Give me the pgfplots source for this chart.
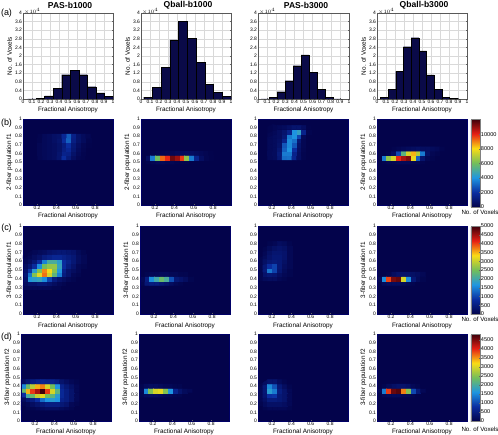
\documentclass[border=0pt]{standalone}
\usepackage{pgfplots}
\pgfplotsset{compat=1.18}
\usepackage{fontspec}
\setmainfont{Liberation Sans}
\definecolor{navybg}{RGB}{3,3,75}
\definecolor{barnavy}{RGB}{10,10,72}
\pgfplotsset{
 colormap={vox}{rgb255(0cm)=(3,3,75) rgb255(1cm)=(10,45,160) rgb255(2cm)=(30,150,225) rgb255(3cm)=(115,190,90) rgb255(4cm)=(250,220,20) rgb255(5cm)=(230,30,20) rgb255(6cm)=(60,0,10)},
 base/.style={scale only axis,width=90bp,
  tick label style={font=\fontsize{5}{6}\selectfont,inner sep=0.8pt},
  label style={font=\fontsize{6.4}{7}\selectfont},
  x label style={at={(axis description cs:0.5,-0.13)},anchor=center},
  y label style={at={(axis description cs:-0.15,0.5)},anchor=center},
  xlabel={Fractional Anisotropy},
  major tick length=1.2pt,tick align=inside,
  tick style={line width=0.2pt,black!60},
 },
 hist/.style={base,height=86bp,xmin=0,xmax=1,ymin=0,ymax=4,
  axis line style={line width=0.3pt,black!65},
  grid=major,grid style={line width=0.3pt,black!15},
  xtick={0,0.1,0.2,0.3,0.4,0.5,0.6,0.7,0.8,0.9,1},
  xticklabels={0,0.1,0.2,0.3,0.4,0.5,0.6,0.7,0.8,0.9,1},
  ytick={0,0.4,0.8,1.2,1.6,2,2.4,2.8,3.2,3.6,4},
  yticklabels={0,0.4,0.8,1.2,1.6,2,2.4,2.8,3.2,3.6,4},
  ylabel={No. of Voxels},
 },
 heat/.style={base,xmin=0.055,xmax=0.985,ymin=0,ymax=1,colormap name=vox,
  point meta min=0,
  axis background/.style={fill=navybg},
  axis line style={line width=0.3pt,black!60!blue},
  axis on top,xtick pos=bottom,ytick pos=left,
  xtick={0.2,0.4,0.6,0.8},xticklabels={0.2,0.4,0.6,0.8},
  ytick={0,0.1,0.2,0.3,0.4,0.5,0.6,0.7,0.8,0.9,1},
  yticklabels={0,0.1,0.2,0.3,0.4,0.5,0.6,0.7,0.8,0.9,1},
 },
 cbar/.style={colorbar,colorbar style={
   at={(1.044,1)},anchor=north west,width=9bp,scaled y ticks=false,
   tick label style={font=\fontsize{5.6}{6}\selectfont,inner sep=0.8pt},
   major tick length=1pt,tick style={line width=0.2pt,black!60},
   axis line style={line width=0.4pt,black!50},
   #1}},
}
\newcommand{\hd}[4]{\addplot[matrix plot*,mesh/cols=#3,point meta=explicit]
  table[row sep=crcr,header=false,meta index=0,
    x expr={0.03+0.05*(#1+mod(\coordindex,#3))},
    y expr={0.05*(#2+floor(\coordindex/#3))}] {#4};}
\newcommand{\bars}[2]{\addplot[ybar,bar width=#1,fill=barnavy,draw=black,line width=0.3pt] coordinates {#2};}
\newcommand{\tenfour}[1]{\node[anchor=west,inner sep=0pt,font=\fontsize{3.6}{4}\selectfont] at (#1bp,424bp) {$\times10^{4}$};}
\begin{document}
\begin{tikzpicture}
\path[use as bounding box] (0,0) rectangle (498bp,435bp);
% --- row a
\begin{axis}[hist,at={(23bp,336bp)}]
\bars{0.095}{(0.0975,0.005)(0.1925,0.03)(0.2875,0.14)(0.3825,0.5)(0.4775,1.13)(0.5725,1.33)(0.6675,1.13)(0.7625,0.57)(0.8575,0.28)(0.9525,0.11)}
\end{axis}
\begin{axis}[hist,at={(141bp,336bp)}]
\bars{0.097}{(0.0785,0.09)(0.1755,0.53)(0.2725,1.46)(0.3695,2.75)(0.4665,3.6)(0.5635,2.82)(0.6605,1.7)(0.7575,0.68)(0.8545,0.3)(0.9515,0.12)}
\end{axis}
\begin{axis}[hist,at={(258bp,336bp)},width=91bp,ylabel={}]
\bars{0.0875}{(0.0788,0.005)(0.1663,0.08)(0.2538,0.34)(0.3413,0.85)(0.4288,1.55)(0.5163,2.05)(0.6038,1.23)(0.6913,0.45)(0.7788,0.08)(0.8663,0.01)}
\end{axis}
\begin{axis}[hist,at={(377bp,336bp)}]
\bars{0.0855}{(0.0798,0.08)(0.1653,0.45)(0.2508,1.28)(0.3363,2.43)(0.4218,2.85)(0.5073,2.24)(0.5928,1.12)(0.6783,0.45)(0.7638,0.09)(0.8493,0.02)}
\end{axis}
\tenfour{24}\tenfour{142}\tenfour{259}\tenfour{378}
% --- row b
\begin{axis}[heat,height=86bp,at={(23bp,230bp)},ylabel={2-fiber population f1},point meta max=12100]
\hd{4}{11}{11}{200\\300\\400\\500\\800\\1900\\1100\\500\\200\\100\\0\\
200\\300\\400\\500\\800\\1500\\1400\\700\\300\\100\\0\\
200\\300\\400\\500\\700\\1300\\1700\\900\\400\\150\\0\\
200\\300\\400\\500\\700\\1200\\2000\\1000\\500\\200\\50\\
100\\300\\400\\600\\800\\1900\\3000\\1300\\700\\400\\100\\
100\\300\\400\\600\\700\\1700\\2900\\1400\\700\\400\\200\\}
\end{axis}
\begin{axis}[heat,height=86bp,at={(141bp,230bp)},ylabel={2-fiber population f1},point meta max=12100]
\hd{1}{10}{15}{0\\100\\200\\300\\300\\200\\200\\100\\100\\100\\0\\0\\0\\0\\0\\
0\\500\\3500\\6000\\9300\\10000\\11500\\11000\\9800\\6500\\3500\\1500\\500\\150\\50\\
0\\0\\50\\100\\100\\150\\200\\300\\400\\450\\450\\350\\250\\150\\50\\}
\end{axis}
\begin{axis}[heat,height=86bp,at={(258bp,230bp)},point meta max=12100]
\hd{3}{11}{9}{300\\400\\1000\\3200\\3300\\1600\\500\\100\\0\\
300\\400\\1100\\3500\\3500\\1500\\500\\100\\0\\
300\\400\\900\\3000\\4000\\2000\\600\\150\\0\\
300\\400\\700\\2800\\3800\\2800\\700\\200\\0\\
300\\400\\600\\1500\\3800\\3300\\1000\\200\\0\\
300\\400\\500\\1000\\3500\\4000\\2500\\300\\0\\
200\\300\\500\\800\\1500\\4000\\4500\\1500\\100\\
100\\200\\300\\400\\600\\800\\800\\500\\50\\}
\end{axis}
\begin{axis}[heat,height=86bp,at={(377bp,230bp)},ylabel={2-fiber population f1},point meta max=12100,
  cbar={height=88bp,yshift=1bp,ytick={0,2000,4000,6000,8000,10000},yticklabels={0,2000,4000,6000,8000,10000}}]
\hd{1}{10}{14}{0\\100\\200\\200\\300\\300\\300\\200\\200\\100\\0\\0\\0\\0\\
0\\3500\\6500\\7500\\10000\\10800\\11300\\7800\\3000\\800\\200\\100\\0\\0\\
0\\0\\100\\500\\2500\\5500\\7500\\8500\\7000\\3500\\600\\200\\100\\0\\
0\\0\\0\\100\\200\\300\\400\\500\\600\\500\\500\\400\\300\\100\\}
\end{axis}
% --- row c
\begin{axis}[heat,height=88bp,at={(23bp,121bp)},ylabel={3-fiber population f1},point meta max=5000]
\hd{1}{6}{13}{100\\100\\100\\100\\100\\100\\50\\50\\0\\0\\0\\0\\0\\
200\\300\\300\\400\\400\\300\\200\\100\\50\\0\\0\\0\\0\\
300\\1700\\1800\\1900\\1600\\1000\\500\\300\\200\\100\\50\\0\\0\\
400\\1400\\2600\\3200\\3800\\3100\\2300\\1500\\500\\300\\100\\50\\0\\
300\\900\\1800\\2600\\3700\\3300\\2600\\1700\\600\\300\\200\\100\\0\\
200\\400\\800\\1600\\2500\\2700\\2700\\1900\\800\\500\\300\\100\\50\\
100\\200\\400\\800\\1500\\2100\\2100\\1800\\800\\600\\400\\200\\100\\
50\\100\\200\\300\\500\\600\\700\\700\\600\\500\\400\\200\\100\\
0\\50\\100\\150\\200\\300\\350\\400\\400\\350\\300\\150\\50\\}
\end{axis}
\begin{axis}[heat,height=88bp,at={(140bp,121bp)},ylabel={3-fiber population f1},point meta max=5000]
\hd{1}{7}{11}{50\\400\\500\\500\\400\\300\\200\\100\\50\\0\\0\\
100\\500\\1600\\2000\\2400\\2100\\1100\\400\\300\\200\\50\\
0\\50\\100\\100\\150\\150\\100\\100\\50\\50\\0\\}
\end{axis}
\begin{axis}[heat,height=88bp,at={(258bp,121bp)},point meta max=5000]
\hd{1}{8}{7}{50\\150\\200\\200\\100\\50\\0\\
50\\300\\400\\350\\200\\100\\50\\
50\\450\\1400\\1000\\350\\150\\50\\
50\\400\\800\\1000\\400\\200\\100\\
50\\250\\400\\450\\400\\250\\100\\
50\\150\\300\\400\\400\\300\\100\\
0\\100\\250\\350\\350\\300\\100\\
0\\50\\150\\250\\300\\250\\100\\
0\\0\\50\\100\\200\\150\\50\\}
\end{axis}
\begin{axis}[heat,height=88bp,at={(377bp,121bp)},ylabel={3-fiber population f1},point meta max=5000,
  cbar={height=88bp,ytick={0,500,1000,1500,2000,2500,3000,3500,4000,4500,5000},yticklabels={0,500,1000,1500,2000,2500,3000,3500,4000,4500,5000}}]
\hd{1}{7}{10}{0\\150\\200\\200\\200\\150\\100\\50\\0\\0\\
100\\1600\\4000\\4700\\4800\\3100\\1600\\400\\150\\50\\
0\\0\\50\\200\\300\\300\\300\\250\\200\\100\\}
\end{axis}
% --- row d
\begin{axis}[heat,height=87bp,at={(21bp,14bp)},ylabel={3-fiber population f2},point meta max=4815]
\hd{1}{3}{12}{0\\50\\50\\100\\150\\200\\200\\200\\150\\100\\50\\0\\
50\\100\\200\\300\\400\\500\\500\\500\\400\\300\\100\\50\\
200\\400\\500\\800\\1300\\1600\\1700\\1600\\600\\500\\300\\100\\
800\\2000\\2300\\2900\\3100\\2400\\2200\\1700\\700\\500\\300\\100\\
2300\\3400\\3900\\4300\\4800\\3900\\3000\\2200\\700\\500\\300\\100\\
1500\\2300\\2800\\3400\\3600\\3000\\2400\\1600\\600\\400\\250\\100\\
200\\400\\500\\600\\650\\600\\600\\500\\300\\200\\100\\50\\}
\end{axis}
\begin{axis}[heat,height=87bp,at={(139bp,14bp)},ylabel={3-fiber population f2},point meta max=4815]
\hd{1}{6}{11}{50\\150\\200\\200\\150\\100\\100\\50\\50\\0\\0\\
100\\1500\\2500\\3000\\3100\\2500\\1600\\600\\300\\150\\100\\
50\\150\\200\\200\\150\\100\\100\\50\\50\\0\\0\\}
\end{axis}
\begin{axis}[heat,height=87bp,at={(258bp,14bp)},point meta max=4815]
\hd{1}{3}{7}{0\\50\\100\\100\\100\\100\\50\\
50\\150\\250\\250\\250\\200\\100\\
100\\250\\450\\450\\400\\300\\100\\
100\\350\\800\\850\\400\\300\\100\\
100\\400\\1700\\1400\\500\\300\\100\\
100\\400\\1500\\1100\\400\\200\\50\\
50\\200\\300\\300\\150\\50\\0\\}
\end{axis}
\begin{axis}[heat,height=87bp,at={(377bp,14bp)},ylabel={3-fiber population f2},point meta max=4815,
  cbar={height=87bp,ytick={0,500,1000,1500,2000,2500,3000,3500,4000,4500},yticklabels={0,500,1000,1500,2000,2500,3000,3500,4000,4500}}]
\hd{1}{6}{10}{0\\100\\150\\150\\150\\100\\100\\50\\0\\0\\
100\\1400\\3900\\4600\\4700\\3600\\2500\\1000\\400\\100\\
0\\50\\150\\250\\300\\300\\250\\100\\50\\0\\}
\end{axis}
% --- text
\foreach \tx/\tt in {70/PAS-b1000,188/Qball-b1000,306/PAS-b3000,424/Qball-b3000}
  \node[font=\bfseries\fontsize{8.6}{10}\selectfont,inner sep=0pt] at (\tx bp,430bp) {\tt};
\foreach \ly/\lt in {422/(a),312/(b),207/(c),98/(d)}
  \node[font=\fontsize{9}{10}\selectfont,inner sep=0pt] at (6.5bp,\ly bp) {\lt};
\foreach \vy in {223,116,6}
  \node[font=\fontsize{6.2}{7}\selectfont,inner sep=0pt] at (480bp,\vy bp) {No. of Voxels};
\end{tikzpicture}
\end{document}
